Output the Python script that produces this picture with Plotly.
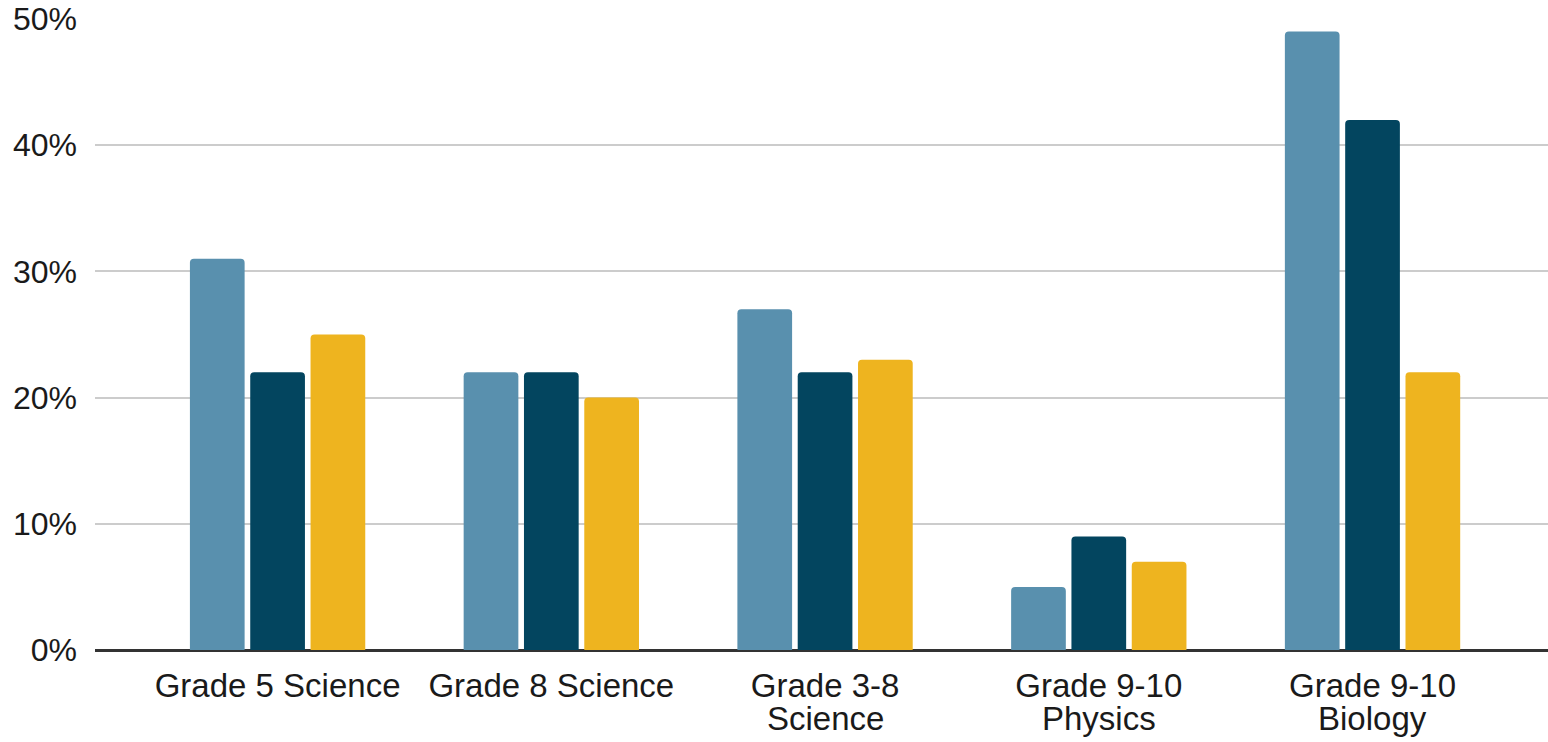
import plotly.graph_objects as go

# Subject categories; "\n" marks where a label wraps onto a second line
categories = [
    "Grade 5 Science",
    "Grade 8 Science",
    "Grade 3-8\nScience",
    "Grade 9-10\nPhysics",
    "Grade 9-10\nBiology",
]

# Percentages for each of the three series
series_a = [31, 22, 27, 5, 49]
series_b = [22, 22, 22, 9, 42]
series_c = [25, 20, 23, 7, 22]

# Y-axis ticks
y_ticks = [0, 10, 20, 30, 40, 50]
y_tick_labels = ["0%", "10%", "20%", "30%", "40%", "50%"]

colors = ["#5990AE", "#03455F", "#EEB41F"]
label_font = dict(family="Liberation Sans, Arial, sans-serif", size=33, color="#1a1a1a")

positions = list(range(len(categories)))
first_lines = [c.split("\n")[0] for c in categories]
second_lines = [c.split("\n")[1] if "\n" in c else "" for c in categories]

fig = go.Figure()
for vals, col in zip([series_a, series_b, series_c], colors):
    fig.add_trace(go.Bar(
        x=positions,
        y=vals,
        marker=dict(color=col, cornerradius=4, line=dict(width=0)),
        hoverinfo="y",
    ))

# Second line of wrapped category labels, set tighter than <br> spacing
for pos, text in zip(positions, second_lines):
    if text:
        fig.add_annotation(
            x=pos, xref="x",
            y=-0.0765, yref="paper",
            yanchor="top", xanchor="center",
            text=text, showarrow=False,
            font=label_font,
        )

fig.update_layout(
    width=1548,
    height=742,
    margin=dict(l=95, r=0, t=19, b=92, autoexpand=False),
    paper_bgcolor="white",
    plot_bgcolor="white",
    barmode="group",
    bargap=0.339,
    bargroupgap=0.093,
    showlegend=False,
    font=label_font,
)

fig.update_xaxes(
    range=[-0.667, 4.641],
    tickmode="array",
    tickvals=positions,
    ticktext=first_lines,
    showgrid=False,
    showline=False,
    zeroline=False,
    ticks="",
    ticklabelstandoff=13,
    automargin=False,
)

fig.update_yaxes(
    range=[0, 50],
    tickmode="array",
    tickvals=y_ticks,
    ticktext=y_tick_labels,
    showgrid=True,
    gridcolor="#cccccc",
    gridwidth=2,
    zeroline=True,
    zerolinecolor="#333333",
    zerolinewidth=2.5,
    showline=False,
    ticks="",
    ticklabelstandoff=17,
    tickfont=dict(size=32),
    automargin=False,
)

fig.write_html("out.html")
